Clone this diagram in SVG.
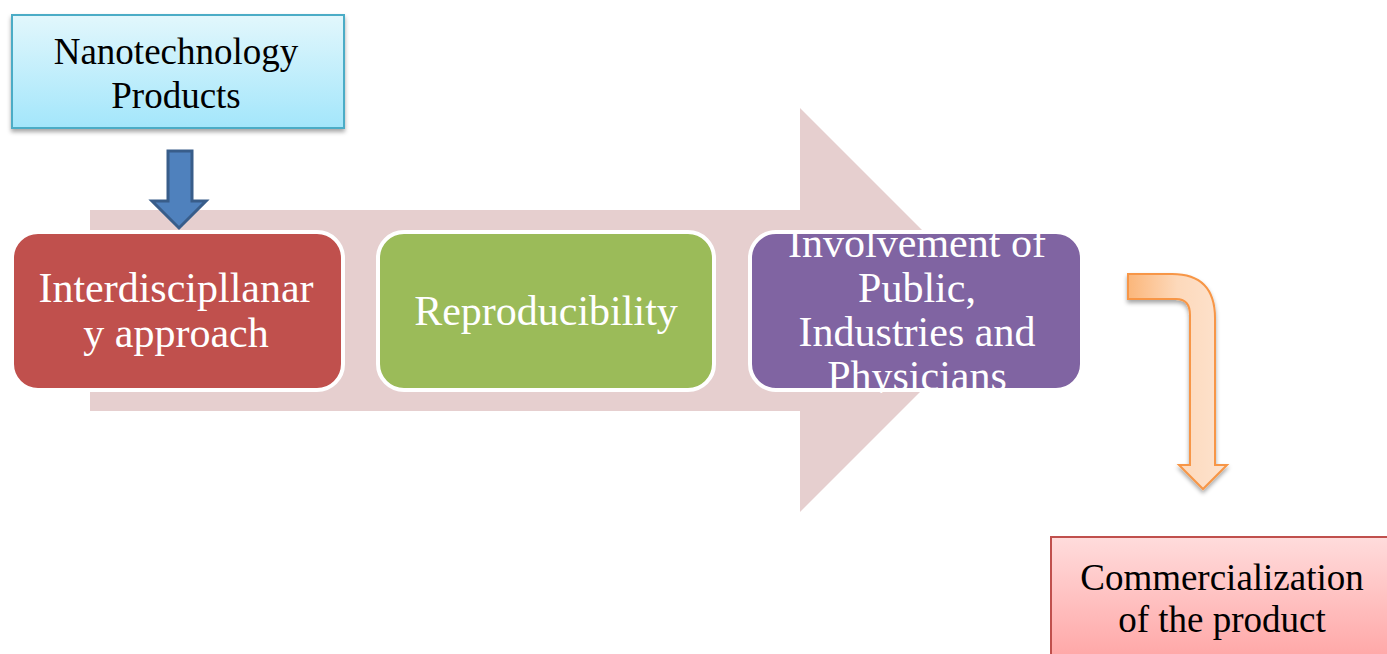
<svg xmlns="http://www.w3.org/2000/svg" width="1387" height="654" viewBox="0 0 1387 654">
<defs>
<linearGradient id="gCyan" x1="0" y1="0" x2="0" y2="1"><stop offset="0" stop-color="#e2f7fc"/><stop offset="1" stop-color="#a3e6fb"/></linearGradient>
<linearGradient id="gPink" x1="0" y1="0" x2="0" y2="1"><stop offset="0" stop-color="#ffdcdc"/><stop offset="1" stop-color="#ffa3a3"/></linearGradient>
<linearGradient id="gOrange" x1="0" y1="0" x2="1" y2="0"><stop offset="0" stop-color="#fbb67a"/><stop offset="0.5" stop-color="#fdd9bb"/><stop offset="1" stop-color="#fde3cf"/></linearGradient>
<filter id="sh" x="-10%" y="-10%" width="130%" height="140%"><feDropShadow dx="0" dy="3" stdDeviation="2" flood-color="#000" flood-opacity="0.35"/></filter>
<clipPath id="clipP"><rect x="750" y="233" width="334" height="160"/></clipPath>
</defs>
<style>
.step{stroke:#ffffff;stroke-width:4}
.wt{font-family:"Liberation Serif","Times New Roman",serif;font-size:42px;fill:#ffffff;text-anchor:middle}
.bt{font-family:"Liberation Serif","Times New Roman",serif;fill:#000000;text-anchor:middle}
</style>
<g id="bigArrow">
<polygon points="90,210 800,210 800,108 1002,310 800,512 800,411 90,411" fill="#e6cfcf"/>
</g>
<g id="nano">
<rect x="12" y="15" width="332" height="113" fill="url(#gCyan)" stroke="#4bacc6" stroke-width="2" filter="url(#sh)"/>
<text class="bt" font-size="37" x="176" y="64">Nanotechnology</text>
<text class="bt" font-size="37" x="176" y="108">Products</text>
</g>
<g id="interdisciplinary">
<rect class="step" x="12" y="232" width="331" height="158" rx="26" fill="#c0504d"/>
<text class="wt" x="176" y="302">Interdiscipllanar</text>
<text class="wt" x="176" y="347">y approach</text>
</g>
<g id="reproducibility">
<rect class="step" x="378" y="232" width="336" height="158" rx="26" fill="#9bbb59"/>
<text class="wt" x="546" y="325">Reproducibility</text>
</g>
<g id="involvement">
<rect class="step" x="750" y="232" width="332" height="158" rx="26" fill="#8064a2"/>
<g clip-path="url(#clipP)">
<text class="wt" x="917" y="257">Involvement of</text>
<text class="wt" x="917" y="302">Public,</text>
<text class="wt" x="917" y="346">Industries and</text>
<text class="wt" x="917" y="390">Physicians</text>
</g>
</g>
<g id="commercialization">
<rect x="1051" y="537" width="345" height="130" fill="url(#gPink)" stroke="#c0504d" stroke-width="2"/>
<text class="bt" font-size="37" x="1222" y="590">Commercialization</text>
<text class="bt" font-size="37" x="1222" y="632">of the product</text>
</g>
<g id="connectors">
<polygon points="168,151 192,151 192,201 206,201 179,228 152,201 168,201" fill="#4f81bd" stroke="#385d8a" stroke-width="3" stroke-linejoin="miter"/>
<path d="M1128,274 L1172,274 Q1215,274 1215,318 L1215,465 L1227,465 L1203,489 L1179,465 L1190,465 L1190,315 Q1190,299 1176,299 L1128,299 Z" fill="url(#gOrange)" stroke="#f79646" stroke-width="2" filter="url(#sh)"/>
</g>
</svg>
